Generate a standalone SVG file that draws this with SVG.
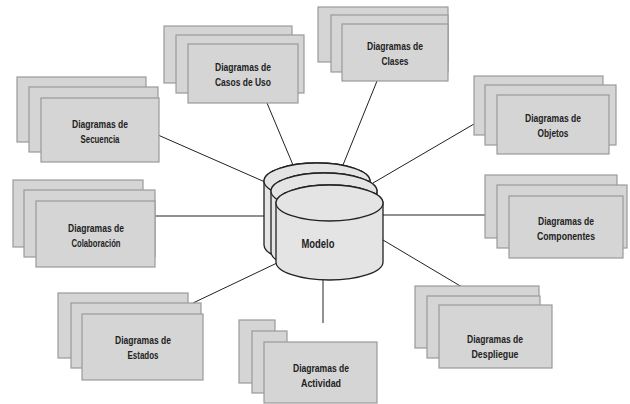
<svg xmlns="http://www.w3.org/2000/svg" width="630" height="404" viewBox="0 0 630 404">
  <style>
    .card { fill: #d5d5d5; stroke: #9a9a9a; stroke-width: 1.2; }
    .conn { stroke: #222; stroke-width: 1; fill: none; }
    .cyl { fill: #e4e4e4; stroke: #222; stroke-width: 1.3; }
    .lbl { font-family: "Liberation Sans", Arial, sans-serif; font-size: 11px; font-weight: bold; fill: #222; text-anchor: middle; }
    .mdl { font-family: "Liberation Sans", Arial, sans-serif; font-size: 12px; font-weight: bold; fill: #222; text-anchor: middle; }
  </style>

  <!-- connectors from the model to each diagram stack -->
  <g id="connectors">
    <line class="conn" x1="267" y1="103" x2="293" y2="165"/>
    <line class="conn" x1="377" y1="81" x2="343" y2="165"/>
    <line class="conn" x1="474" y1="124" x2="373" y2="183"/>
    <line class="conn" x1="383" y1="215" x2="485" y2="215"/>
    <line class="conn" x1="383" y1="240" x2="462" y2="287"/>
    <line class="conn" x1="323" y1="279" x2="323" y2="323"/>
    <line class="conn" x1="193" y1="303" x2="277" y2="263"/>
    <line class="conn" x1="155" y1="216" x2="264" y2="216"/>
    <line class="conn" x1="158" y1="135" x2="265" y2="182"/>
  </g>

  <g id="casos-de-uso">
    <rect class="card" x="164" y="26" width="128" height="57"/>
    <rect class="card" x="176" y="35" width="128" height="58"/>
    <rect class="card" x="188" y="44" width="110" height="59"/>
    <text class="lbl" x="243" y="71" textLength="56" lengthAdjust="spacingAndGlyphs">Diagramas de</text>
    <text class="lbl" x="243" y="86" textLength="56" lengthAdjust="spacingAndGlyphs">Casos de Uso</text>
  </g>

  <g id="clases">
    <rect class="card" x="318" y="7" width="130" height="55"/>
    <rect class="card" x="331" y="15" width="117" height="57"/>
    <rect class="card" x="342" y="24" width="106" height="57"/>
    <text class="lbl" x="395" y="50" textLength="56" lengthAdjust="spacingAndGlyphs">Diagramas de</text>
    <text class="lbl" x="395" y="65" textLength="27" lengthAdjust="spacingAndGlyphs">Clases</text>
  </g>

  <g id="objetos">
    <rect class="card" x="474" y="76" width="129" height="59"/>
    <rect class="card" x="485" y="85" width="131" height="60"/>
    <rect class="card" x="497" y="95" width="112" height="59"/>
    <text class="lbl" x="553" y="122" textLength="56" lengthAdjust="spacingAndGlyphs">Diagramas de</text>
    <text class="lbl" x="553" y="137" textLength="31" lengthAdjust="spacingAndGlyphs">Objetos</text>
  </g>

  <g id="secuencia">
    <rect class="card" x="17" y="77" width="129" height="65"/>
    <rect class="card" x="29" y="87" width="129" height="65"/>
    <rect class="card" x="41" y="98" width="118" height="64"/>
    <text class="lbl" x="100" y="128" textLength="56" lengthAdjust="spacingAndGlyphs">Diagramas de</text>
    <text class="lbl" x="100" y="143" textLength="39" lengthAdjust="spacingAndGlyphs">Secuencia</text>
  </g>

  <g id="colaboracion">
    <rect class="card" x="13" y="180" width="130" height="67"/>
    <rect class="card" x="24" y="190" width="131" height="67"/>
    <rect class="card" x="36" y="201" width="119" height="66"/>
    <text class="lbl" x="96" y="232" textLength="56" lengthAdjust="spacingAndGlyphs">Diagramas de</text>
    <text class="lbl" x="96" y="247" textLength="49" lengthAdjust="spacingAndGlyphs">Colaboración</text>
  </g>

  <g id="componentes">
    <rect class="card" x="485" y="175" width="132" height="63"/>
    <rect class="card" x="497" y="185" width="130" height="63"/>
    <rect class="card" x="509" y="196" width="114" height="62"/>
    <text class="lbl" x="566" y="225" textLength="56" lengthAdjust="spacingAndGlyphs">Diagramas de</text>
    <text class="lbl" x="566" y="240" textLength="58" lengthAdjust="spacingAndGlyphs">Componentes</text>
  </g>

  <g id="estados">
    <rect class="card" x="58" y="293" width="130" height="65"/>
    <rect class="card" x="71" y="303" width="130" height="65"/>
    <rect class="card" x="82" y="314" width="121" height="66"/>
    <text class="lbl" x="143" y="344" textLength="56" lengthAdjust="spacingAndGlyphs">Diagramas de</text>
    <text class="lbl" x="143" y="359" textLength="31" lengthAdjust="spacingAndGlyphs">Estados</text>
  </g>

  <g id="despliegue">
    <rect class="card" x="415" y="286" width="124" height="62"/>
    <rect class="card" x="427" y="296" width="113" height="62"/>
    <rect class="card" x="439" y="305" width="113" height="63"/>
    <text class="lbl" x="495" y="343" textLength="56" lengthAdjust="spacingAndGlyphs">Diagramas de</text>
    <text class="lbl" x="495" y="358" textLength="47" lengthAdjust="spacingAndGlyphs">Despliegue</text>
  </g>

  <g id="actividad">
    <rect class="card" x="239" y="320" width="36" height="63"/>
    <rect class="card" x="252" y="331" width="35" height="62"/>
    <rect class="card" x="264" y="342" width="113" height="61"/>
    <text class="lbl" x="321" y="372" textLength="56" lengthAdjust="spacingAndGlyphs">Diagramas de</text>
    <text class="lbl" x="321" y="387" textLength="40" lengthAdjust="spacingAndGlyphs">Actividad</text>
  </g>

  <!-- the model: three stacked cylinders -->
  <g id="modelo">
    <path class="cyl" d="M264,181 L264,245 A53,18 0 0 0 370,245 L370,181 A53,18 0 0 0 264,181 Z"/>
    <ellipse class="cyl" cx="317" cy="181" rx="53" ry="18"/>
    <path class="cyl" d="M271,191 L271,252 A53,18 0 0 0 377,252 L377,191 A53,18 0 0 0 271,191 Z"/>
    <ellipse class="cyl" cx="324" cy="191" rx="53" ry="18"/>
    <path class="cyl" d="M276,203 L276,262 A53.5,18 0 0 0 383,262 L383,203 A53.5,18 0 0 0 276,203 Z"/>
    <ellipse class="cyl" cx="329.5" cy="203" rx="53.5" ry="18"/>
    <text class="mdl" x="318" y="248" textLength="33" lengthAdjust="spacingAndGlyphs">Modelo</text>
  </g>
</svg>
